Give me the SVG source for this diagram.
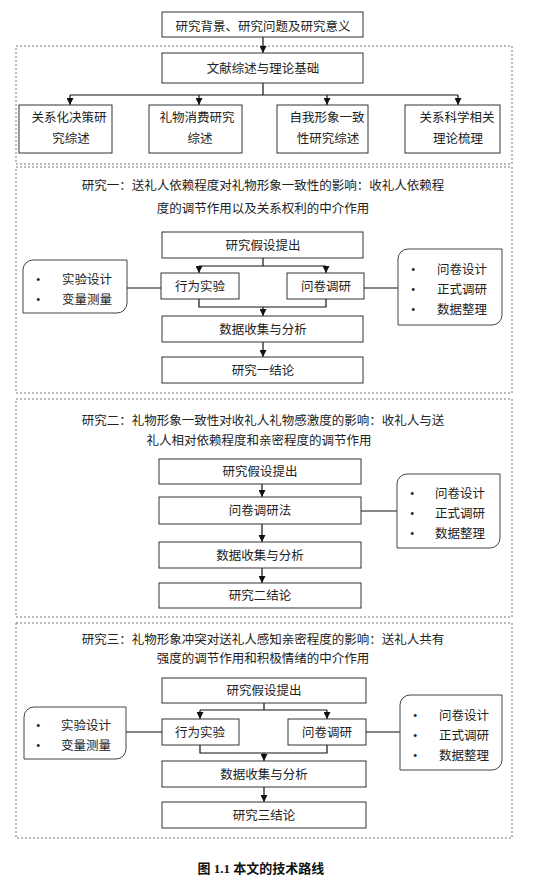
<svg xmlns="http://www.w3.org/2000/svg" width="559" height="892" viewBox="0 0 559 892">
<defs>
<marker id="ah" viewBox="0 0 8 8" refX="8" refY="4" markerWidth="7" markerHeight="7" markerUnits="userSpaceOnUse" orient="auto">
<path d="M0,0 L8,4 L0,8 Z" fill="#111"/>
</marker>
<style>
text{font-family:"Liberation Serif","Noto Sans CJK SC",serif;font-size:12.5px;fill:#222;}
.c{text-anchor:middle;}
.box{fill:#fff;stroke:#333;stroke-width:1;}
.sec{fill:none;stroke:#777;stroke-width:1;stroke-dasharray:2,2;}
.ln{fill:none;stroke:#111;stroke-width:1.2;}
.ar{fill:none;stroke:#111;stroke-width:1.2;marker-end:url(#ah);}
.leaf{fill:#fff;stroke:#444;stroke-width:1;}
.cap{font-weight:bold;font-size:13px;fill:#111;}
</style>
</defs>
<rect width="559" height="892" fill="#fff"/>

<g id="sections">
<rect class="sec" x="16" y="46" width="496" height="118"/>
<rect class="sec" x="16" y="167" width="496" height="226"/>
<rect class="sec" x="16" y="399" width="496" height="218"/>
<rect class="sec" x="16" y="623" width="496" height="215"/>
</g>

<g id="connectors">
<line class="ar" x1="263" y1="37" x2="263" y2="53"/>
<polyline class="ln" points="263,83 263,95"/>
<line class="ln" x1="70" y1="95" x2="458" y2="95"/>
<line class="ar" x1="70" y1="95" x2="70" y2="105"/>
<line class="ar" x1="199" y1="95" x2="199" y2="105"/>
<line class="ar" x1="327" y1="95" x2="327" y2="105"/>
<line class="ar" x1="458" y1="95" x2="458" y2="105"/>

<line class="ln" x1="263" y1="258" x2="263" y2="266"/>
<line class="ln" x1="199" y1="266" x2="326" y2="266"/>
<line class="ar" x1="199" y1="266" x2="199" y2="273"/>
<line class="ar" x1="326" y1="266" x2="326" y2="273"/>
<polyline class="ln" points="199,299 199,307 326,307 326,299"/>
<line class="ar" x1="263" y1="307" x2="263" y2="316"/>
<line class="ar" x1="263" y1="342" x2="263" y2="357"/>
<line class="ln" x1="127" y1="288" x2="161" y2="288"/>
<line class="ln" x1="364" y1="288" x2="398" y2="288"/>

<line class="ar" x1="262" y1="484" x2="262" y2="497"/>
<line class="ar" x1="262" y1="524" x2="262" y2="542"/>
<line class="ar" x1="262" y1="568" x2="262" y2="583"/>
<line class="ln" x1="361" y1="511" x2="397" y2="511"/>

<line class="ln" x1="264" y1="703" x2="264" y2="710"/>
<line class="ln" x1="200" y1="710" x2="327" y2="710"/>
<line class="ar" x1="200" y1="710" x2="200" y2="719"/>
<line class="ar" x1="327" y1="710" x2="327" y2="719"/>
<polyline class="ln" points="200,745 200,753 327,753 327,745"/>
<line class="ar" x1="264" y1="753" x2="264" y2="761"/>
<line class="ar" x1="264" y1="787" x2="264" y2="802"/>
<line class="ln" x1="126" y1="732" x2="162" y2="732"/>
<line class="ln" x1="366" y1="732" x2="400" y2="732"/>
</g>

<g id="n-background">
<rect class="box" x="162" y="12" width="201" height="25"/>
<text class="c" x="263" y="30.5">研究背景、研究问题及研究意义</text>
</g>
<g id="n-literature">
<rect class="box" x="162" y="53" width="201" height="30"/>
<text class="c" x="263" y="72.5">文献综述与理论基础</text>
</g>
<g id="n-lit1">
<rect class="box" x="19" y="105" width="93" height="48"/>
<text class="c" x="69" y="121.5">关系化决策研</text>
<text class="c" x="71" y="142.5">究综述</text>
</g>
<g id="n-lit2">
<rect class="box" x="149" y="105" width="93" height="48"/>
<text class="c" x="197" y="121.5">礼物消费研究</text>
<text class="c" x="200" y="142.5">综述</text>
</g>
<g id="n-lit3">
<rect class="box" x="277" y="105" width="91" height="48"/>
<text class="c" x="327" y="121.5">自我形象一致</text>
<text class="c" x="328" y="142.5">性研究综述</text>
</g>
<g id="n-lit4">
<rect class="box" x="405" y="105" width="95" height="48"/>
<text class="c" x="457" y="121.5">关系科学相关</text>
<text class="c" x="458" y="142.5">理论梳理</text>
</g>

<g id="n-s1-title">
<text class="c" x="263" y="189.5">研究一：送礼人依赖程度对礼物形象一致性的影响：收礼人依赖程</text>
<text class="c" x="263" y="212.5">度的调节作用以及关系权利的中介作用</text>
</g>
<g id="n-s1-hyp">
<rect class="box" x="162" y="232" width="201" height="26"/>
<text class="c" x="263" y="249.5">研究假设提出</text>
</g>
<g id="n-s1-exp">
<rect class="box" x="161" y="273" width="78" height="26"/>
<text class="c" x="200" y="290.5">行为实验</text>
</g>
<g id="n-s1-survey">
<rect class="box" x="287" y="273" width="77" height="26"/>
<text class="c" x="326" y="290.5">问卷调研</text>
</g>
<g id="n-s1-data">
<rect class="box" x="162" y="316" width="201" height="26"/>
<text class="c" x="263" y="333.5">数据收集与分析</text>
</g>
<g id="n-s1-concl">
<rect class="box" x="162" y="357" width="201" height="26"/>
<text class="c" x="263" y="374.5">研究一结论</text>
</g>
<g id="n-s1-left">
<path class="leaf" d="M23,270 A10,10 0 0 1 33,260 L127,260 L127,303 A10,10 0 0 1 117,313 L23,313 Z"/>
<text x="36" y="283.5">•</text><text x="62" y="283.5">实验设计</text>
<text x="36" y="303.5">•</text><text x="62" y="303.5">变量测量</text>
</g>
<g id="n-s1-right">
<path class="leaf" d="M398,259 A10,10 0 0 1 408,249 L502,249 L502,315 A10,10 0 0 1 492,325 L398,325 Z"/>
<text x="411" y="273.5">•</text><text x="437" y="273.5">问卷设计</text>
<text x="411" y="293.5">•</text><text x="437" y="293.5">正式调研</text>
<text x="411" y="313.5">•</text><text x="437" y="313.5">数据整理</text>
</g>

<g id="n-s2-title">
<text class="c" x="263" y="424.5">研究二：礼物形象一致性对收礼人礼物感激度的影响：收礼人与送</text>
<text class="c" x="259" y="444.5">礼人相对依赖程度和亲密程度的调节作用</text>
</g>
<g id="n-s2-hyp">
<rect class="box" x="159" y="459" width="202" height="25"/>
<text class="c" x="260" y="476">研究假设提出</text>
</g>
<g id="n-s2-survey">
<rect class="box" x="159" y="497" width="202" height="27"/>
<text class="c" x="260" y="515">问卷调研法</text>
</g>
<g id="n-s2-data">
<rect class="box" x="159" y="542" width="202" height="26"/>
<text class="c" x="260" y="559.5">数据收集与分析</text>
</g>
<g id="n-s2-concl">
<rect class="box" x="159" y="583" width="202" height="25"/>
<text class="c" x="260" y="600">研究二结论</text>
</g>
<g id="n-s2-right">
<path class="leaf" d="M397,484 A10,10 0 0 1 407,474 L500,474 L500,538 A10,10 0 0 1 490,548 L397,548 Z"/>
<text x="410" y="497.5">•</text><text x="435" y="497.5">问卷设计</text>
<text x="410" y="517.5">•</text><text x="435" y="517.5">正式调研</text>
<text x="410" y="537.5">•</text><text x="435" y="537.5">数据整理</text>
</g>

<g id="n-s3-title">
<text class="c" x="263" y="643.5">研究三：礼物形象冲突对送礼人感知亲密程度的影响：送礼人共有</text>
<text class="c" x="263" y="662.5">强度的调节作用和积极情绪的中介作用</text>
</g>
<g id="n-s3-hyp">
<rect class="box" x="162" y="678" width="204" height="25"/>
<text class="c" x="264" y="695">研究假设提出</text>
</g>
<g id="n-s3-exp">
<rect class="box" x="162" y="719" width="77" height="26"/>
<text class="c" x="200" y="736.5">行为实验</text>
</g>
<g id="n-s3-survey">
<rect class="box" x="288" y="719" width="78" height="26"/>
<text class="c" x="327" y="736.5">问卷调研</text>
</g>
<g id="n-s3-data">
<rect class="box" x="162" y="761" width="204" height="26"/>
<text class="c" x="264" y="778.5">数据收集与分析</text>
</g>
<g id="n-s3-concl">
<rect class="box" x="162" y="802" width="204" height="26"/>
<text class="c" x="264" y="819.5">研究三结论</text>
</g>
<g id="n-s3-left">
<path class="leaf" d="M24,717 A10,10 0 0 1 34,707 L126,707 L126,749 A10,10 0 0 1 116,759 L24,759 Z"/>
<text x="36" y="729.5">•</text><text x="61" y="729.5">实验设计</text>
<text x="36" y="749.5">•</text><text x="61" y="749.5">变量测量</text>
</g>
<g id="n-s3-right">
<path class="leaf" d="M400,705 A10,10 0 0 1 410,695 L502,695 L502,760 A10,10 0 0 1 492,770 L400,770 Z"/>
<text x="413" y="719.5">•</text><text x="439" y="719.5">问卷设计</text>
<text x="413" y="739.5">•</text><text x="439" y="739.5">正式调研</text>
<text x="413" y="759.5">•</text><text x="439" y="759.5">数据整理</text>
</g>

<g id="caption">
<text class="c cap" x="261" y="872.5">图 1.1 本文的技术路线</text>
</g>
</svg>
